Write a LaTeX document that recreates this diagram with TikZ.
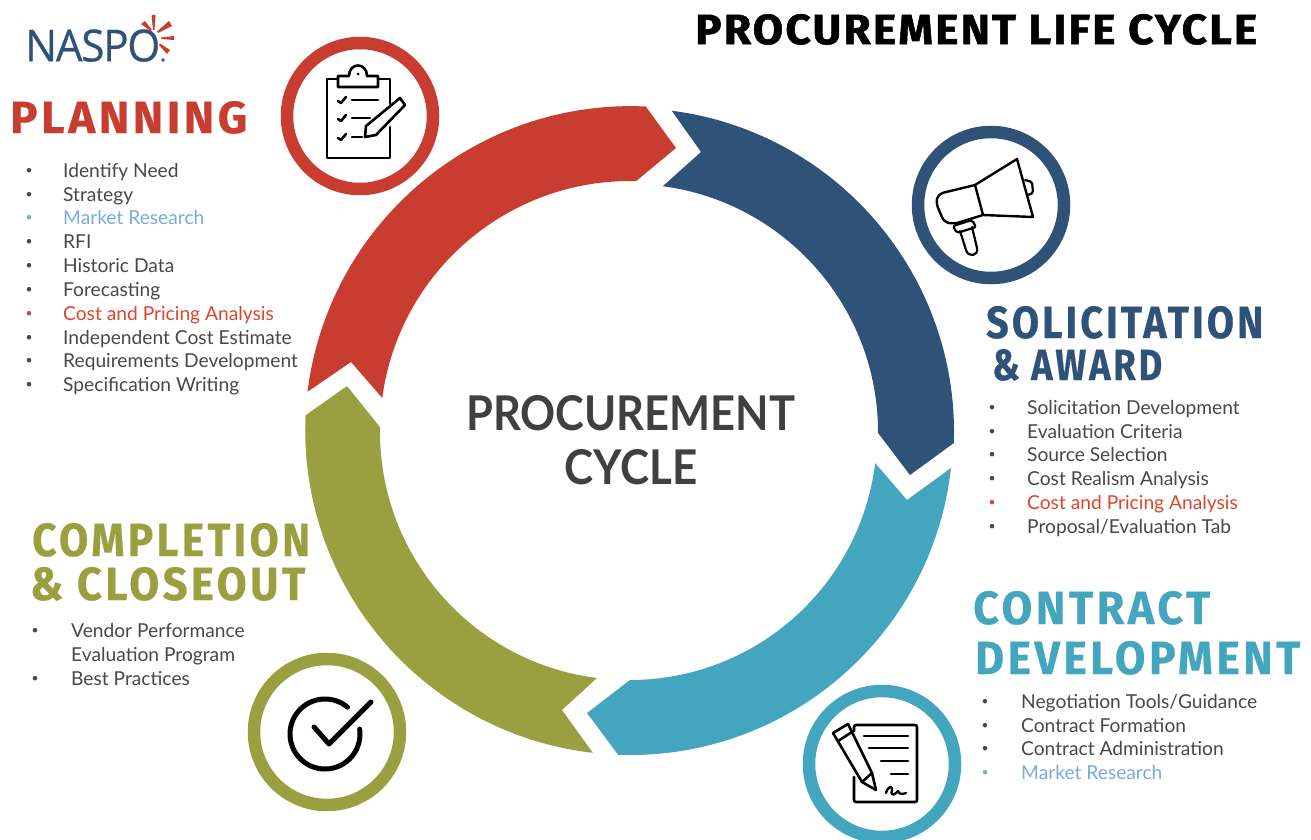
\documentclass[tikz,border=0pt]{standalone}
\usetikzlibrary{calc}
\usepackage{fontspec}
\usepackage{graphicx}
\setmainfont{Fira Sans}
\newfontfamily\headf[LetterSpace=8,FakeBold=0.5]{Fira Sans}
\newfontfamily\titlef[LetterSpace=5,FakeBold=1.2]{Fira Sans}
\newfontfamily\centerf{Lato}
\newfontfamily\logof[FakeBold=0.5]{Open Sans}
\newfontfamily\bodyf{Lato}
\definecolor{cred}{HTML}{C93C30}
\definecolor{cblue}{HTML}{2F5279}
\definecolor{cteal}{HTML}{43A5BE}
\definecolor{colive}{HTML}{9A9F3F}
\definecolor{ctext}{HTML}{484848}
\definecolor{clblue}{HTML}{7BABDD}
\definecolor{clred}{HTML}{DC4530}
\tikzset{
  ring/.style={draw=#1,line width=12.5pt,fill=white},
  icon/.style={draw=black,line width=2.6pt,line join=round,line cap=round},
  head/.style={inner sep=0pt,anchor=south west,text=#1},
  bul/.style={inner sep=0pt,anchor=base,text=#1,font=\fontsize{20}{20}\selectfont},
  item/.style={inner sep=0pt,anchor=base west,text=#1,font=\bodyf\fontsize{19.2}{20}\selectfont},
}
% name, bullet x, text x, baseline y, colour, text
\newcommand\listline[6]{%
  \node[bul=#5,text height=7pt,text depth=0pt] (#1b) at (#2,#4) {•};
  \node[item=#5] (#1t) at (#3,#4) {#6};}
\newcommand\headline[7]{% name,x,bottom y,w,h,colour,text
  \node[head=#6] (#1) at (#2,#3) {\resizebox{#4pt}{#5pt}{\headf\bfseries #7}};}
\begin{document}
\begin{tikzpicture}[x=1pt,y=-1pt]
\useasboundingbox (0,0) rectangle (1311,840);
\fill[white] (0,0) rectangle (1311,840);
\coordinate (C) at (630,432);
% ---- ring segments
\fill[cblue] ($(C)+(-82.6:324)$) arc[start angle=-82.6,end angle=1.95,radius=324]
  -- (910,475) -- ($(C)+(0.2:248)$) arc[start angle=0.2,end angle=-82.4,radius=248]
  -- (701,152) -- cycle;
\fill[cteal] ($(C)+(6.4:323)$) arc[start angle=6.4,end angle=92.1,radius=323]
  -- (587,713) -- ($(C)+(90:248)$) arc[start angle=90,end angle=7,radius=247]
  -- (907,500) -- cycle;
\fill[colive] ($(C)+(96.6:323)$) arc[start angle=96.6,end angle=182.6,radius=325]
  -- (347,386) -- ($(C)+(181.1:250)$) arc[start angle=181.1,end angle=97.2,radius=248]
  -- (562,710) -- cycle;
\fill[cred] ($(C)+(187.1:325)$) arc[start angle=187.1,end angle=272.6,radius=326]
  -- (676,148) -- ($(C)+(271.4:251)$) arc[start angle=271.4,end angle=187.6,radius=250]
  -- (351,362) -- cycle;
% ---- icon rings
\draw[ring=cred] (360,116) circle[radius=73];
\draw[ring=cblue] (991,205) circle[radius=73];
\draw[ring=cteal] (882,764) circle[radius=73];
\draw[ring=colive] (327,732) circle[radius=73];
% ---- clipboard
\draw[icon] (338,79) -- (327,79) -- (327,158) -- (390,158) -- (390,127);
\draw[icon] (378,79) -- (390,79) -- (390,104);
\draw[icon] (338,87) -- (338,76) -- (349,76) .. controls (349,62) and (367,62) .. (367,76) -- (378,76) -- (378,87) -- cycle;
\fill (358,74) circle[radius=1.5];
\draw[icon] (352,100) -- (378,100) (352,118) -- (370,118) (352,137) -- (362,137);
\foreach \yy in {100,118,137}{\draw[icon] (338,\yy+1) -- (341,\yy+3) -- (346,\yy-3);}
\draw[icon] (365,137) -- (366,126) -- (400,98) -- (405,105) -- (376,135) -- cycle;
% ---- megaphone
\draw[icon,line width=2.4pt] (975,185) -- (1017,159) -- (1033,217) -- (983,215) -- cycle;
\draw[icon,line width=2.4pt,rounded corners=5pt] (975,185) -- (938,194) -- (936,203) -- (944,222) -- (954,224) -- (983,215);
\draw[icon,line width=2.2pt,rounded corners=1.5pt] (1025,180) -- (1032,182) -- (1033,193) -- (1028,195);
\draw[icon,line width=2.2pt,rounded corners=2pt] (953,226) -- (972,220) -- (976,227) -- (957,233) -- cycle;
\draw[icon,line width=2.2pt] (960,231) -- (966,250) .. controls (968,258) and (979,256) .. (977,248) -- (972,227);
% ---- contract
\draw[icon,rounded corners=2pt] (854,777) -- (854,802) -- (917,802) -- (917,725) -- (854,725) -- (854,731);
\draw[icon] (864,736) -- (908,736) (869,748) -- (908,748) (881,761) -- (908,761) (891,774) -- (908,774);
\draw[icon,line join=round] (833,733) -- (848,724) -- (872,773) -- (876,790) -- (862,782) -- cycle;
\draw[icon] (838,741) -- (852,732) (862,782) -- (872,773);
\draw[icon,line width=2.3pt] (886,793) .. controls (888,786) and (893,785) .. (892,790) .. controls (890,797) and (895,795) .. (898,791) .. controls (899,795) and (903,794) .. (906,793);
% ---- check
\draw[icon,line width=5pt] ($(325,734)+(-50:35)$) arc[start angle=-50,end angle=-368,radius=35];
\draw[icon,line width=5pt] (314,727) -- (329,744) -- (371,702);
% ---- logo
\node[inner sep=0pt,anchor=south west,text=cblue] (logo) at (25,62) {\resizebox{135pt}{32pt}{\logof\addfontfeature{LetterSpace=-3}NASPO}};
\node[inner sep=0pt,text=cblue,font=\logof\fontsize{4}{4}\selectfont] (reg) at (163,60) {®};
\fill[cred] (151.5,15) -- (155.5,15) -- (154.5,30) -- (153,30) -- cycle
  (141,24) -- (145,21) -- (152,30) -- (150.5,31) -- cycle
  (169,21) -- (172,26) -- (158,33) -- (157,31.5) -- cycle
  (174,36) -- (174,40) -- (161,39) -- (161,37.5) -- cycle
  (170,50) -- (167,54) -- (159,45) -- (160,43.5) -- cycle;
% ---- titles
\node[inner sep=0pt,anchor=south west] (title) at (695,45) {\resizebox{562pt}{30pt}{\titlef\bfseries PROCUREMENT LIFE CYCLE}};
\node[inner sep=0pt,anchor=south west,text=black!75] (cc1) at (466,431) {\resizebox{329pt}{35pt}{\centerf\bfseries PROCUREMENT}};
\node[inner sep=0pt,anchor=south west,text=black!75] (cc2) at (564,485) {\resizebox{133pt}{35pt}{\centerf\bfseries CYCLE}};
% ---- headings
\headline{hp}{10}{134}{237}{32}{cred}{PLANNING}
\headline{hs1}{986}{339}{277}{32}{cblue}{SOLICITATION}
\headline{hs2}{992}{381}{170}{31}{cblue}{\& AWARD}
\headline{hc1}{973}{625}{237}{33}{cteal}{CONTRACT}
\headline{hc2}{975}{675}{325}{33}{cteal}{DEVELOPMENT}
\headline{hd1}{32}{557}{278}{33}{colive}{COMPLETION}
\headline{hd2}{30}{601}{275}{33}{colive}{\& CLOSEOUT}
% ---- lists
\listline{p1}{29}{63}{177}{ctext}{Identify Need}
\listline{p2}{29}{63}{201}{ctext}{Strategy}
\listline{p3}{29}{63}{224}{clblue}{Market Research}
\listline{p4}{29}{63}{248}{ctext}{RFI}
\listline{p5}{29}{63}{272}{ctext}{Historic Data}
\listline{p6}{29}{63}{296}{ctext}{Forecasting}
\listline{p7}{29}{63}{320}{clred}{Cost and Pricing Analysis}
\listline{p8}{29}{63}{344}{ctext}{Independent Cost Estimate}
\listline{p9}{29}{63}{367}{ctext}{Requirements Development}
\listline{p10}{29}{63}{391}{ctext}{Specification Writing}
\listline{s1}{992}{1027}{414}{ctext}{Solicitation Development}
\listline{s2}{992}{1027}{438}{ctext}{Evaluation Criteria}
\listline{s3}{992}{1027}{461}{ctext}{Source Selection}
\listline{s4}{992}{1027}{485}{ctext}{Cost Realism Analysis}
\listline{s5}{992}{1027}{509}{clred}{Cost and Pricing Analysis}
\listline{s6}{992}{1027}{533}{ctext}{Proposal/Evaluation Tab}
\listline{c1}{985}{1021}{708}{ctext}{Negotiation Tools/Guidance}
\listline{c2}{985}{1021}{732}{ctext}{Contract Formation}
\listline{c3}{985}{1021}{755}{ctext}{Contract Administration}
\listline{c4}{985}{1021}{779}{clblue}{Market Research}
\listline{d1}{35}{71}{637}{ctext}{Vendor Performance}
\node[item=ctext] (d2t) at (71,661) {Evaluation Program};
\listline{d3}{35}{71}{685}{ctext}{Best Practices}
\end{tikzpicture}
\end{document}
